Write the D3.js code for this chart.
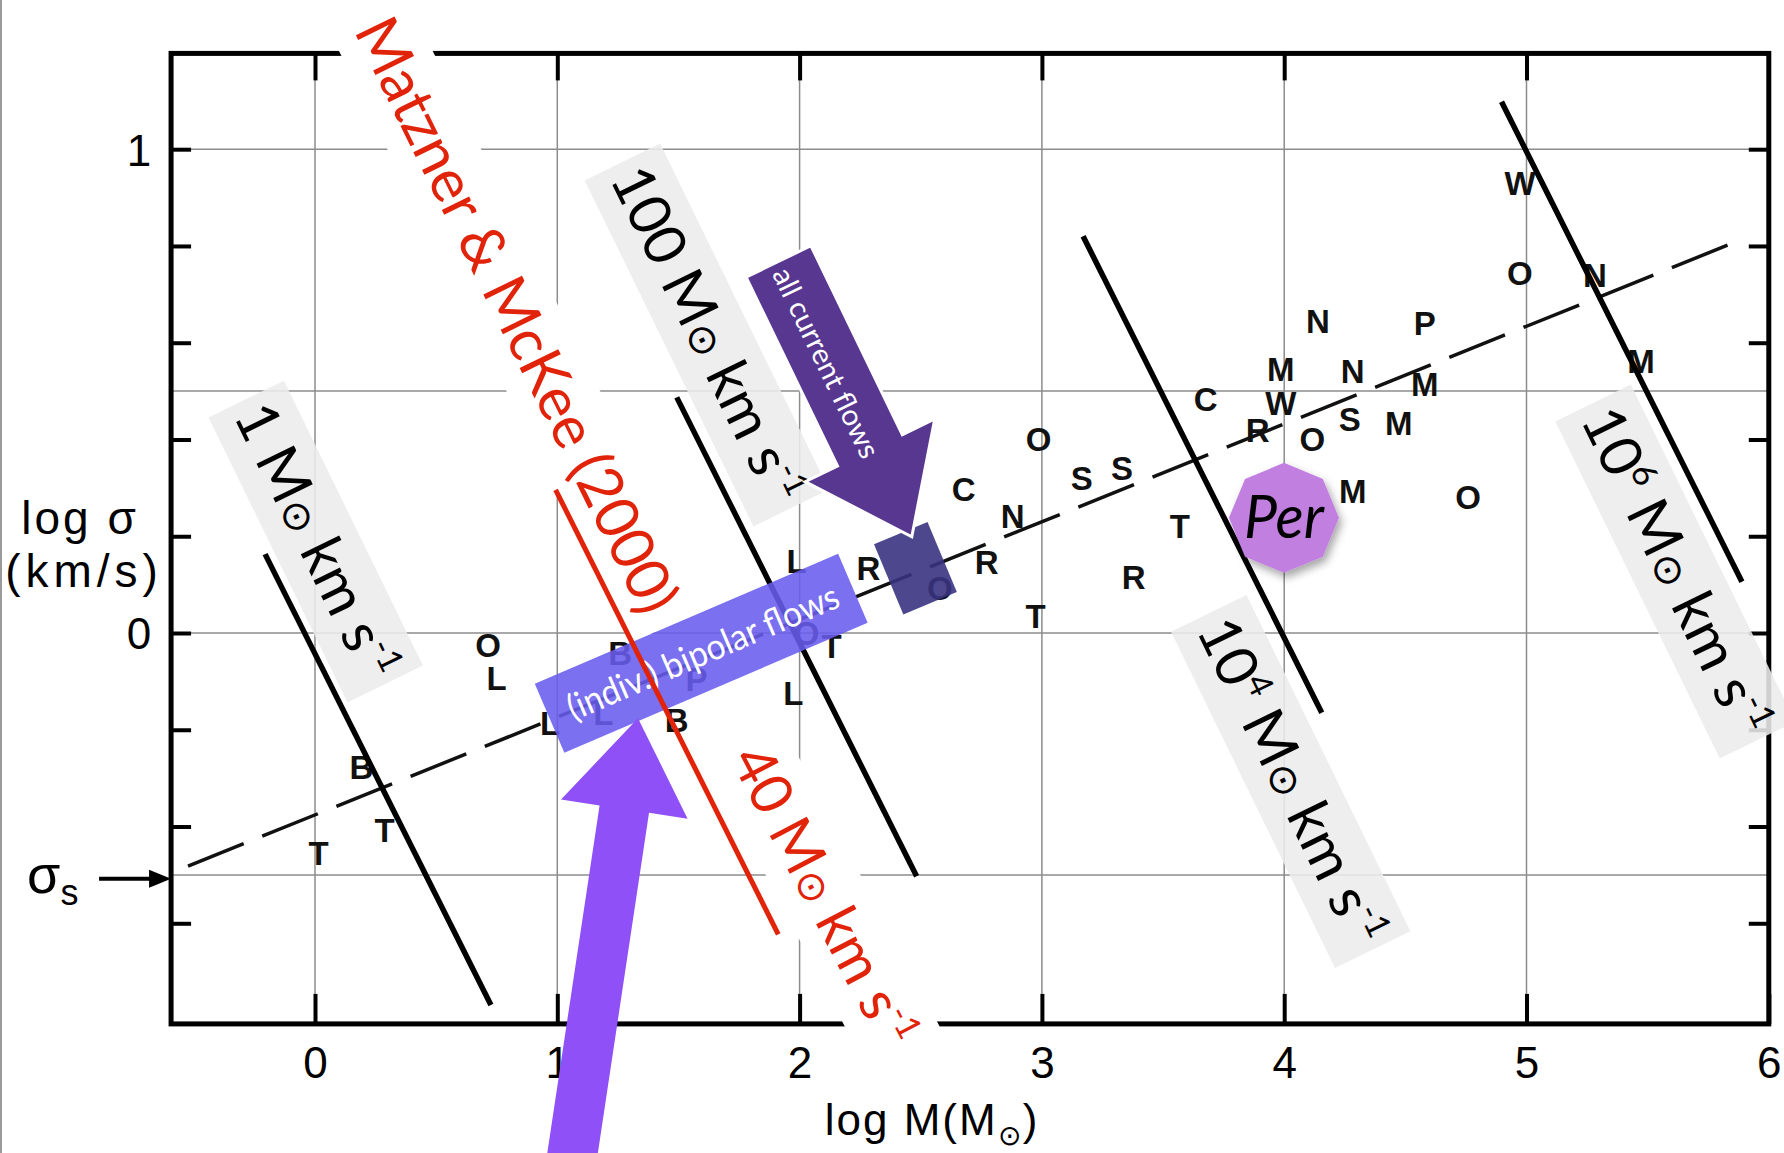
<!DOCTYPE html>
<html><head><meta charset="utf-8">
<script src="https://cdn.jsdelivr.net/npm/d3@7"></script>
<style>
html,body{margin:0;padding:0;background:#fff;}
svg{display:block;}
</style></head><body>
<svg id="chart" width="1784" height="1153"></svg>
<script>
// ---------------- data ----------------
const xTickVals = [0, 1, 2, 3, 4, 5, 6];
const yMinorTicks = [-0.6, -0.4, -0.2, 0, 0.2, 0.4, 0.6, 0.8, 1.0];
const yTickLabels = {"1": "1", "0": "0"};
const gridLogM = [0, 1, 2, 3, 4, 5];
const gridLogSigma = [-0.5, 0, 0.5, 1];
const frameLogM = [-0.594, 6];
const frameLogSigma = [-0.808, 1.198];

// cloud letters (Larson 1981)
const letterChar = ["W","O","N","N","P","M","N","M","M","C","W","S","M","R","O","O","S","S","C","M","O","N","T","R","R","T","L","R","B","P","L","T","O","B","L","L","O","L","B","T","T","O"];
const letterLogM = [4.973,4.973,5.282,4.139,4.580,3.986,4.283,4.580,5.473,3.676,3.986,4.271,4.473,3.890,4.116,2.986,3.331,3.165,2.677,4.283,4.759,2.879,3.569,2.772,3.379,2.974,1.988,2.284,1.259,1.575,1.974,2.132,2.029,1.493,0.970,1.190,0.714,0.749,0.192,0.287,0.015,2.579];
const letterLogSigma = [0.929,0.743,0.739,0.644,0.640,0.545,0.541,0.513,0.561,0.482,0.475,0.442,0.434,0.419,0.399,0.399,0.339,0.320,0.296,0.292,0.280,0.241,0.221,0.146,0.114,0.034,0.147,0.134,-0.042,-0.097,-0.125,-0.028,-0.001,-0.180,-0.187,-0.166,-0.026,-0.094,-0.279,-0.408,-0.455,0.093];

// Larson relation (dashed)
const fitSlope = 0.202, fitIntercept = -0.376, fitRange = [-0.524, 5.83];
const sigmaS = -0.508;

// constant-momentum lines: log sigma = logP - log M
const momentumLogP = [-0.043, 1.98, 3.99, 5.995];
const momentumFrom = [-0.206, 1.493, 3.170, 4.897];
const momentumTo   = [0.726, 2.483, 4.155, 5.889];
const redLogP = 1.289, redRange = [0.993, 1.912];

// momentum labels (gray boxes)
const labelMain = ["1", "100", "10", "10"];
const labelSup  = ["", "", "4", "6"];
const labelLogM = [0.003, 1.617, 4.027, 5.614];
const labelLogSigma = [0.189, 0.616, -0.307, 0.127];
const labelLen = [317, 385, 374, 375];

// red annotations
const redText1 = "Matzner & McKee (2000)";
const redText1Pos = [0.83, 0.656];
const redText2Pos = [2.101, -0.544];

// Perseus
const perPos = [3.999, 0.238];
// arrows / boxes (log M, log sigma)
const currentArrowTail = [1.913, 0.768], currentArrowTip = [2.463, 0.199];
const bigArrowTail = [1.045, -1.135], bigArrowTip = [1.333, -0.176];
const bipolarCenter = [1.594, -0.042];
const currentRectCenter = [2.478, 0.134];

// ---------------- drawing ----------------
const svg = d3.select("#chart");
const x = d3.scaleLinear().domain([0, 6]).range([315, 1768.8]);
const y = d3.scaleLinear().domain([0, 1]).range([633, 149.2]);
const fx0 = x(frameLogM[0]), fx1 = x(frameLogM[1]);
const fy0 = y(frameLogSigma[1]), fy1 = y(frameLogSigma[0]);
const ang = Math.atan2(y(-1) - y(0), x(1) - x(0)) * 180 / Math.PI;

const defs = svg.append("defs");
const f = defs.append("filter").attr("id","shadow").attr("x","-30%").attr("y","-30%").attr("width","160%").attr("height","160%");
f.append("feDropShadow").attr("dx",3).attr("dy",5).attr("stdDeviation",4).attr("flood-color","#000").attr("flood-opacity",0.35);

// left border of slide
svg.append("line").attr("x1",1).attr("x2",1).attr("y1",0).attr("y2",1153).attr("stroke","#9a9a9a").attr("stroke-width",2);

// grid
const grid = svg.append("g").attr("stroke","#8c8c8c").attr("stroke-width",1.5);
grid.selectAll("line.v").data(gridLogM).join("line").attr("class","v")
  .attr("x1",d=>x(d)).attr("x2",d=>x(d)).attr("y1",fy0).attr("y2",fy1);
grid.selectAll("line.h").data(gridLogSigma).join("line").attr("class","h")
  .attr("y1",d=>y(d)).attr("y2",d=>y(d)).attr("x1",fx0).attr("x2",fx1);

// axes
const axisFont = "'Liberation Sans', Arial, sans-serif";
function styleAxis(g){
  g.select(".domain").remove();
  g.selectAll(".tick line").attr("stroke","#000").attr("stroke-width",4);
  g.selectAll(".tick text").attr("fill","#000").style("font-family",axisFont).style("font-size","44px");
}
svg.append("g").attr("transform",`translate(0,${fy1})`)
  .call(d3.axisBottom(x).tickValues(xTickVals).tickSize(-30).tickPadding(23).tickFormat(d3.format("d")))
  .call(styleAxis);
svg.append("g").attr("transform",`translate(0,${fy0})`)
  .call(d3.axisTop(x).tickValues(xTickVals.slice(0,6)).tickSize(-27).tickFormat(""))
  .call(styleAxis);
svg.append("g").attr("transform",`translate(${fx0},0)`)
  .call(d3.axisLeft(y).tickValues(yMinorTicks).tickSize(-20).tickFormat(d => yTickLabels[String(Math.round(d*10)/10)] || ""))
  .call(styleAxis)
  .call(g => g.selectAll(".tick text").attr("x",-32).attr("text-anchor","middle").attr("dy","0.36em"));
svg.append("g").attr("transform",`translate(${fx1},0)`)
  .call(d3.axisRight(y).tickValues(yMinorTicks).tickSize(-20).tickFormat(""))
  .call(styleAxis);

// frame
svg.append("rect").attr("x",fx0).attr("y",fy0).attr("width",fx1-fx0).attr("height",fy1-fy0)
  .attr("fill","none").attr("stroke","#000").attr("stroke-width",5);

// sigma_s arrow
svg.append("line").attr("x1",fx0-72).attr("x2",fx0-14).attr("y1",y(sigmaS)).attr("y2",y(sigmaS)).attr("stroke","#000").attr("stroke-width",4);
svg.append("path").attr("d",`M${fx0},${y(sigmaS)} L${fx0-22},${y(sigmaS)-9} L${fx0-22},${y(sigmaS)+9} Z`).attr("fill","#000");
const ss = svg.append("text").attr("x",fx0-144).attr("y",y(sigmaS)+14).style("font-family",axisFont).style("font-size","54px");
ss.append("tspan").text("σ");
ss.append("tspan").attr("dy",12).style("font-size","36px").text("s");

// axis titles
svg.append("text").attr("x",80).attr("y",534).attr("text-anchor","middle").attr("letter-spacing",3).style("font-family",axisFont).style("font-size","46px").text("log σ");
svg.append("text").attr("x",84).attr("y",587).attr("text-anchor","middle").attr("letter-spacing",5).style("font-family",axisFont).style("font-size","46px").text("(km/s)");
const xt = svg.append("text").attr("x",932).attr("y",1135).attr("text-anchor","middle").attr("letter-spacing",2).style("font-family",axisFont).style("font-size","44px");
xt.append("tspan").text("log M(M");
xt.append("tspan").attr("dy",10).style("font-size","28px").text("⊙");
xt.append("tspan").attr("dy",-10).text(")");

// dashed Larson relation
svg.append("line")
  .attr("x1",x(fitRange[0])).attr("y1",y(fitSlope*fitRange[0]+fitIntercept))
  .attr("x2",x(fitRange[1])).attr("y2",y(fitSlope*fitRange[1]+fitIntercept))
  .attr("stroke","#111").attr("stroke-width",3.5).attr("stroke-dasharray","60,20");

// letters
svg.append("g").selectAll("text").data(letterChar).join("text")
  .attr("x",(d,i)=>x(letterLogM[i])).attr("y",(d,i)=>y(letterLogSigma[i]))
  .attr("text-anchor","middle").attr("dominant-baseline","central")
  .style("font-family",axisFont).style("font-weight","bold").style("font-size","33px")
  .attr("fill","#111").text(d=>d);

// gray momentum labels
const lblFont = "Lato, 'Open Sans', sans-serif";
function momentumText(t, main, sup){
  t.append("tspan").text(main);
  if (sup) { t.append("tspan").attr("dy",-22).style("font-size","34px").text(sup); t.append("tspan").attr("dy",22).text(" M"); }
  else t.append("tspan").text(" M");
  t.append("tspan").style("font-family","'DejaVu Sans'").style("font-size","40px").text("⊙");
  t.append("tspan").text(" km s");
  t.append("tspan").attr("dy",-22).style("font-size","34px").text("-1");
}
labelMain.forEach((m,i)=>{
  const g = svg.append("g").attr("transform",`translate(${x(labelLogM[i])},${y(labelLogSigma[i])}) rotate(${ang+0.6})`);
  g.append("rect").attr("x",-labelLen[i]/2).attr("y",-42).attr("width",labelLen[i]).attr("height",84)
    .attr("fill","#ececec").attr("opacity",0.88);
  const t = g.append("text").attr("x",0).attr("y",19).attr("text-anchor","middle")
    .attr("textLength",labelLen[i]-18).attr("lengthAdjust","spacingAndGlyphs")
    .style("font-family",lblFont).style("font-size","58px").attr("fill","#000");
  momentumText(t, m, labelSup[i]);
});

// red labels with white backing
const red = "#e1230a";
{
  const g = svg.append("g").attr("transform",`translate(${x(redText1Pos[0])},${y(redText1Pos[1])}) rotate(${ang+0.4})`);
  g.append("rect").attr("x",-345).attr("y",-42).attr("width",690).attr("height",84).attr("fill","#fff");
  g.append("text").attr("x",0).attr("y",20).attr("text-anchor","middle")
    .attr("textLength",655).attr("lengthAdjust","spacingAndGlyphs")
    .style("font-family",lblFont).style("font-size","60px").attr("fill",red).text(redText1);
}
{
  const g = svg.append("g").attr("transform",`translate(${x(redText2Pos[0])},${y(redText2Pos[1])}) rotate(${ang-1})`);
  g.append("rect").attr("x",-175).attr("y",-42).attr("width",350).attr("height",84).attr("fill","#fff");
  const t = g.append("text").attr("x",0).attr("y",20).attr("text-anchor","middle")
    .attr("textLength",330).attr("lengthAdjust","spacingAndGlyphs")
    .style("font-family",lblFont).style("font-size","58px").attr("fill",red);
  momentumText(t, "40", "");
}

// black momentum lines
svg.append("g").selectAll("line").data(momentumLogP).join("line")
  .attr("x1",(d,i)=>x(momentumFrom[i])).attr("y1",(d,i)=>y(d-momentumFrom[i]))
  .attr("x2",(d,i)=>x(momentumTo[i])).attr("y2",(d,i)=>y(d-momentumTo[i]))
  .attr("stroke","#000").attr("stroke-width",5.5);

// Perseus octagon
{
  const cx = x(perPos[0]), cy = y(perPos[1]), r = 55;
  const pts = d3.range(8).map(k => { const a = -Math.PI/2 + k*Math.PI/4; return [cx + r*Math.cos(a), cy + r*Math.sin(a)]; });
  svg.append("polygon").attr("points",pts.map(p=>p.join(",")).join(" ")).attr("fill","#c17fe0").attr("filter","url(#shadow)");
  svg.append("text").attr("x",cx).attr("y",cy+20).attr("text-anchor","middle")
    .attr("textLength",80).attr("lengthAdjust","spacingAndGlyphs")
    .style("font-family",lblFont).style("font-style","italic").style("font-size","60px").attr("fill","#000").text("Per");
}

// arrows
function arrowPts(T, P, w, hw, hl){
  const dx=P[0]-T[0], dy=P[1]-T[1], len=Math.hypot(dx,dy);
  const ux=dx/len, uy=dy/len, nx=-uy, ny=ux;
  const bx=P[0]-ux*hl, by=P[1]-uy*hl;
  return [[T[0]+nx*w/2,T[1]+ny*w/2],[bx+nx*w/2,by+ny*w/2],[bx+nx*hw/2,by+ny*hw/2],P,
          [bx-nx*hw/2,by-ny*hw/2],[bx-nx*w/2,by-ny*w/2],[T[0]-nx*w/2,T[1]-ny*w/2]];
}
const px = p => [x(p[0]), y(p[1])];

// dark rectangle (current flows)
svg.append("rect").attr("x",-29).attr("y",-38).attr("width",58).attr("height",76)
  .attr("transform",`translate(${x(currentRectCenter[0])},${y(currentRectCenter[1])}) rotate(-22.7)`)
  .attr("fill","#3a3481").attr("opacity",0.9);

// "all current flows" arrow
{
  const T = px(currentArrowTail), P = px(currentArrowTip);
  svg.append("polygon").attr("points",arrowPts(T,P,72,144,96).map(p=>p.join(",")).join(" "))
    .attr("fill","#583791").attr("stroke","#fff").attr("stroke-width",3).attr("stroke-linejoin","miter");
  const a = Math.atan2(P[1]-T[1], P[0]-T[0]);
  const tx = T[0] + Math.cos(a)*112, ty = T[1] + Math.sin(a)*112;
  svg.append("text").attr("transform",`translate(${tx},${ty}) rotate(${a*180/Math.PI})`)
    .attr("text-anchor","middle").attr("dominant-baseline","central")
    .attr("textLength",208).attr("lengthAdjust","spacingAndGlyphs")
    .style("font-family",lblFont).style("font-size","29px").attr("fill","#fff").text("all current flows");
}

// bipolar flows box
{
  const g = svg.append("g").attr("transform",`translate(${x(bipolarCenter[0])},${y(bipolarCenter[1])}) rotate(-23.2)`);
  g.append("rect").attr("x",-165).attr("y",-37.5).attr("width",330).attr("height",75).attr("fill","#695cee").attr("opacity",0.88);
  g.append("text").attr("x",2).attr("y",12).attr("text-anchor","middle")
    .attr("textLength",292).attr("lengthAdjust","spacingAndGlyphs")
    .style("font-family",lblFont).style("font-size","36px").attr("fill","#fff").text("(indiv.) bipolar flows");
}

// red momentum line (Matzner & McKee)
svg.append("line")
  .attr("x1",x(redRange[0])).attr("y1",y(redLogP-redRange[0]))
  .attr("x2",x(redRange[1])).attr("y2",y(redLogP-redRange[1]))
  .attr("stroke",red).attr("stroke-width",5);

// big purple arrow
{
  const T = px(bigArrowTail), P = px(bigArrowTip);
  svg.append("polygon").attr("points",arrowPts(T,P,50,128,92).map(p=>p.join(",")).join(" "))
    .attr("fill","#9050f7");
}
</script>
</body></html>
